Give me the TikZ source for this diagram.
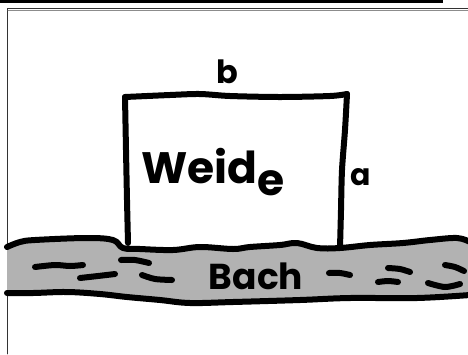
\documentclass[tikz,border=0pt]{standalone}
\usepackage{fontspec}
\setmainfont{Poppins}
\usetikzlibrary{positioning}

\begin{document}
\begin{tikzpicture}[x=1pt, y=-1pt, line cap=round, line join=round]
\tikzset{
  pen/.style={draw=black, line width=6pt},
  frameline/.style={draw=black!80, line width=0.8pt},
  water/.style={draw=black, line width=6pt},
  hand/.style={font=\bfseries, inner sep=0pt},
}
\useasboundingbox (0,0) rectangle (468,354);

% Frame
\fill[black] (0,0) rectangle (443,3);
\draw[frameline] (7,354) -- (7,8) -- (468,8);
\draw[draw=black!45, line width=0.6pt] (8,10) -- (468,10);

% River
\fill[black!30] plot[smooth, tension=0.6] coordinates {(7,247) (20,242) (35,240) (87,238) (113,240) (123,248) (140,249) (173,250) (200,247) (233,249) (250,247) (280,245) (297,243) (317,248) (340,248) (370,245) (403,243) (430,240) (457,238) (470,242)}
  -- (470,295) -- plot[smooth, tension=0.6] coordinates {(467,295) (417,298) (350,298) (300,300) (233,302) (190,303) (160,300) (127,297) (100,294) (67,292) (33,293) (7,293)} -- cycle;
\draw[pen] plot[smooth, tension=0.6] coordinates {(7,247) (20,242) (35,240) (87,238) (113,240) (123,248) (140,249) (173,250) (200,247) (233,249) (250,247) (280,245) (297,243) (317,248) (340,248) (370,245) (403,243) (430,240) (457,238) (470,242)};
\draw[pen] plot[smooth, tension=0.6] coordinates {(7,293) (33,293) (67,292) (100,294) (127,297) (160,300) (190,303) (233,302) (300,300) (350,298) (417,298) (470,295)};

% Waves
\draw[water] plot[smooth] coordinates {(35,267) (55,265) (70,266) (83,265)};
\draw[water] plot[smooth] coordinates {(80,278) (98,276) (115,274)};
\draw[water] plot[smooth] coordinates {(121,260) (135,260) (149,263)};
\draw[water] plot[smooth] coordinates {(142,275) (155,279) (172,280)};
\draw[water] plot[smooth] coordinates {(329,273) (340,273) (350,275)};
\draw[water] plot[smooth] coordinates {(388,268) (400,269) (410,272)};
\draw[water] plot[smooth] coordinates {(378,282) (388,281) (398,282)};
\draw[water] plot[smooth] coordinates {(445,265) (455,267) (464,271)};
\draw[water] plot[smooth] coordinates {(428,283) (445,287) (460,284)};

% Field
\draw[pen] plot[smooth, tension=0.5] coordinates {(128,243) (127,200) (126,150) (125,97)};
\draw[pen] plot[smooth, tension=0.5] coordinates {(125,97) (170,95) (200,94) (230,96) (280,97) (330,96) (347,94)};
\draw[pen] plot[smooth, tension=0.5] coordinates {(347,94) (345,130) (342,170) (341,210) (340,248)};

% Labels
\node (weide) [hand, font=\fontsize{44}{44}\selectfont\bfseries] at (213,172) {Weid\raisebox{-0.28em}{e}};
\node (b) [hand, font=\fontsize{32}{32}\selectfont\bfseries] at (227,72) {b};
\node (a) [hand, font=\fontsize{30}{30}\selectfont\bfseries] at (361,177) {a};
\node (bach) [hand, font=\fontsize{36}{36}\selectfont\bfseries] at (256,276) {Bach};

\end{tikzpicture}
\end{document}
